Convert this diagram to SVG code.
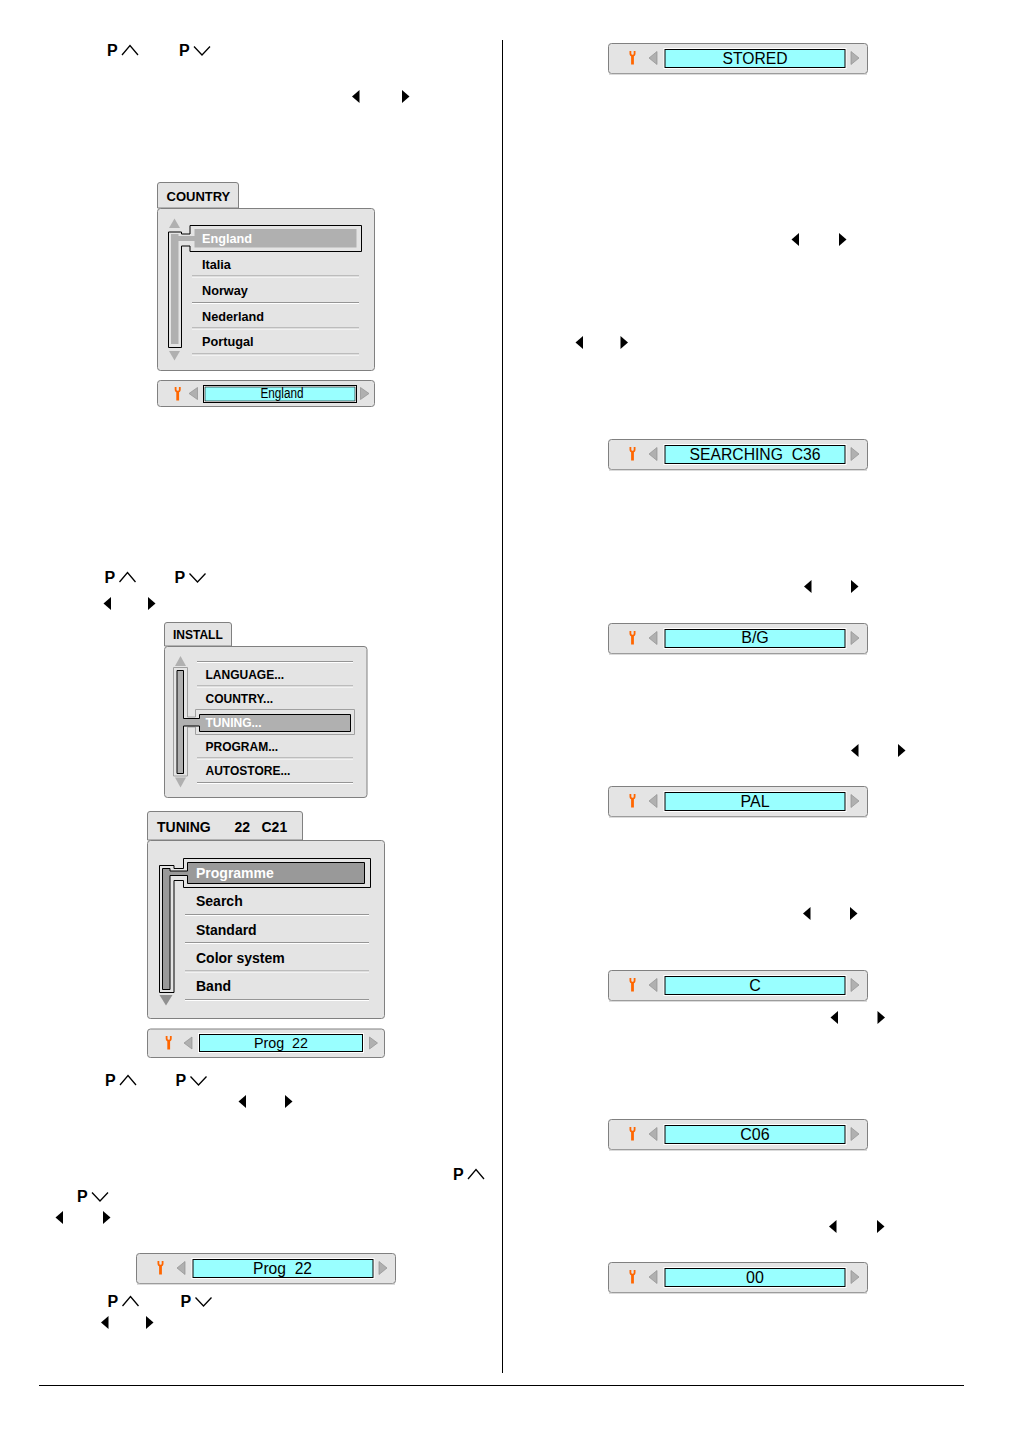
<svg xmlns="http://www.w3.org/2000/svg" width="1014" height="1433" viewBox="0 0 1014 1433">
<style>
text{font-family:"Liberation Sans",Arial,sans-serif;fill:#000}
.p{font-weight:bold;font-size:16px}
.caret{fill:none;stroke:#000;stroke-width:1.3}
.panel{fill:#e4e4e4;stroke:#808080;stroke-width:1}
.tab{fill:#e4e4e4;stroke:#808080;stroke-width:1}
.b{font-weight:bold}
.w{fill:#fff}
.c{font-size:12.7px}
.i{font-size:12px}
.t{font-size:14px}
.sepd{stroke:#959595;stroke-width:1;fill:none}
.sepl{stroke:#fff;stroke-width:1;fill:none}
.out{fill:#e4e4e4;stroke:#000;stroke-width:1}
.val{text-anchor:middle;white-space:pre}
.v16{font-size:16px}
.cy{fill:#99ffff;stroke:#000;stroke-width:1}
.wr{fill:none;stroke:#ff6600}
.ga{fill:#b0b0b0;stroke:#909090;stroke-width:.7}
</style>
<defs>
<path id="lt" d="M7.500 0V13L0 6.500Z" fill="#000"/>
<path id="rt" d="M0 0V13L7.500 6.500Z" fill="#000"/>
<g id="up"><path class="caret" d="M15 10L23 0.500L31 10"/></g>
<g id="dn"><path class="caret" d="M15 1L23 9.500L31 1"/></g>
<g id="wrench"><path class="wr" stroke-width="1.800" d="M-2.100 0V2.500Q-2.100 4.600 0 4.600Q2.100 4.600 2.100 2.500V0"/><path class="wr" stroke-width="2.800" d="M0 4.500V13.500"/></g>
<g id="bar">
<rect x=".5" y=".5" width="259" height="30" rx="3" class="panel"/>
<path d="M1 31H259" stroke="#b8b8b8" stroke-width="1"/>
<use href="#wrench" x="24.500" y="8"/>
<path d="M41 15L49 8.500V21.500Z" class="ga"/>
<path d="M243 8.500V21.500L251 15Z" class="ga"/>
<rect x="55.500" y="5" width="183" height="21" fill="#fff"/>
<rect x="57" y="6.500" width="180" height="18" class="cy"/>
</g>
</defs>

<g id="page-rules">
<path d="M502.500 40V1373" stroke="#000" stroke-width="1"/>
<path d="M39 1385.500H964" stroke="#000" stroke-width="1"/>
</g>

<g id="keys">
<text x="107" y="56" class="p">P</text><use href="#up" x="107" y="45"/>
<text x="179" y="56" class="p">P</text><use href="#dn" x="179" y="45.500"/>
<text x="104.500" y="583" class="p">P</text><use href="#up" x="104.500" y="572"/>
<text x="174.500" y="583" class="p">P</text><use href="#dn" x="174.500" y="572.500"/>
<text x="105" y="1086" class="p">P</text><use href="#up" x="105" y="1075"/>
<text x="175.500" y="1086" class="p">P</text><use href="#dn" x="175.500" y="1075.500"/>
<text x="453" y="1180" class="p">P</text><use href="#up" x="453" y="1169"/>
<text x="77" y="1202" class="p">P</text><use href="#dn" x="77" y="1191.500"/>
<text x="107.500" y="1307" class="p">P</text><use href="#up" x="107.500" y="1296"/>
<text x="180.500" y="1307" class="p">P</text><use href="#dn" x="180.500" y="1296.500"/>
<use href="#lt" x="352" y="90"/><use href="#rt" x="402" y="90"/>
<use href="#lt" x="103.500" y="597"/><use href="#rt" x="148" y="597"/>
<use href="#lt" x="238.500" y="1095"/><use href="#rt" x="285" y="1095"/>
<use href="#lt" x="55.500" y="1211"/><use href="#rt" x="103" y="1211"/>
<use href="#lt" x="101" y="1316"/><use href="#rt" x="146" y="1316"/>
<use href="#lt" x="791.500" y="233"/><use href="#rt" x="839" y="233"/>
<use href="#lt" x="575.500" y="336"/><use href="#rt" x="620.500" y="336"/>
<use href="#lt" x="804" y="580"/><use href="#rt" x="851" y="580"/>
<use href="#lt" x="851" y="744"/><use href="#rt" x="898" y="744"/>
<use href="#lt" x="803" y="907"/><use href="#rt" x="850" y="907"/>
<use href="#lt" x="830.500" y="1011"/><use href="#rt" x="877.500" y="1011"/>
<use href="#lt" x="829" y="1220"/><use href="#rt" x="877" y="1220"/>
</g>

<g id="country-menu">
<path class="tab" d="M157.500 208V185Q157.500 182.500 160 182.500H236Q238.500 182.500 238.500 185V208Z"/>
<text x="166.500" y="201" class="b" font-size="13px">COUNTRY</text>
<rect x="157.500" y="208.500" width="217" height="162" rx="3" class="panel"/>
<path d="M174.500 218.500L180 228H169Z" fill="#b0b0b0"/>
<path d="M174.500 360.500L180 351H169Z" fill="#b0b0b0"/>
<path class="out" d="M168.500 232H181.500V234H190V225.500H361.500V251.500H190V246H181.500V347.500H168.500Z"/>
<path d="M171 234H178.500V236H194.500V229H356.500V247.500H194.500V241H178.500V344H171Z" fill="#b0b0b0"/>
<text x="202" y="243" class="b c w">England</text>
<text x="202" y="269" class="b c">Italia</text>
<text x="202" y="295" class="b c">Norway</text>
<text x="202" y="320.500" class="b c">Nederland</text>
<text x="202" y="346" class="b c">Portugal</text>
<path class="sepd" d="M192 276H359M192 302.500H359M192 328H359M192 354H359"/>
<path class="sepl" d="M192 277H359M192 303.500H359M192 329H359M192 355H359"/>
</g>

<g id="country-bar">
<rect x="157.500" y="380.500" width="217" height="26" rx="3" class="panel"/>
<use href="#wrench" x="177.700" y="387"/>
<path d="M189 393.500L197.500 387.500V399.500Z" class="ga"/>
<path d="M360.500 387.500V399.500L369 393.500Z" class="ga"/>
<rect x="203.500" y="385.500" width="153" height="17" fill="#fff" stroke="#000" stroke-width="1"/>
<rect x="205" y="387" width="150" height="14" fill="#99ffff" stroke="#000" stroke-width=".6"/>
<text x="282" y="398" class="val" font-size="14" textLength="43" lengthAdjust="spacingAndGlyphs">England</text>
</g>

<g id="install-menu">
<path class="tab" d="M164.500 646V625Q164.500 622.500 167 622.500H229Q231.500 622.500 231.500 625V646Z"/>
<text x="173" y="638.500" class="b i">INSTALL</text>
<rect x="164.500" y="646.500" width="202.500" height="151" rx="3" class="panel"/>
<path d="M180.500 656L186 666H175Z" fill="#b0b0b0"/>
<path d="M180.500 787.500L186 777.500H175Z" fill="#b0b0b0"/>
<path fill="#e4e4e4" stroke="#a0a0a0" stroke-width="1" d="M173.500 667.500H187.500V717H195.500V709.500H354.500V734.500H195.500V727H187.500V776H173.500Z"/>
<path fill="#b0b0b0" stroke="#000" stroke-width="1" d="M177 670.500H183.500V718.500H199.500V714.500H350.500V731.500H199.500V726H183.500V773.500H177Z"/>
<text x="205.500" y="679" class="b i">LANGUAGE...</text>
<text x="205.500" y="703" class="b i">COUNTRY...</text>
<text x="205.500" y="727" class="b i w">TUNING...</text>
<text x="205.500" y="751" class="b i">PROGRAM...</text>
<text x="205.500" y="775" class="b i">AUTOSTORE...</text>
<path class="sepd" d="M197 661.500H353M197 686H353M197 758H353M197 782.500H353"/>
<path class="sepl" d="M197 662.500H353M197 687H353M197 759H353M197 783.500H353"/>
</g>

<g id="tuning-menu">
<path class="tab" d="M147.500 840V814Q147.500 811.500 150 811.500H300Q302.500 811.500 302.500 814V840Z"/>
<text x="157" y="831.500" class="b t">TUNING</text>
<text x="234.500" y="831.500" class="b t">22</text>
<text x="261.500" y="831.500" class="b t">C21</text>
<rect x="147.500" y="840.500" width="237" height="178" rx="3" class="panel"/>
<path d="M166 1005.500L172.500 995H159.500Z" fill="#909090"/>
<path class="out" d="M159.500 865.500H174V868.500H183.500V858.500H370.500V887.500H183.500V880.500H174V992.500H159.500Z"/>
<path fill="#999" stroke="#000" stroke-width="1" d="M162.500 868.500H170V871H187.500V862.500H364.500V883.500H187.500V875.500H170V989.500H162.500Z"/>
<text x="196" y="878" class="b t w">Programme</text>
<text x="196" y="906" class="b t">Search</text>
<text x="196" y="934.500" class="b t">Standard</text>
<text x="196" y="962.700" class="b t">Color system</text>
<text x="196" y="990.700" class="b t">Band</text>
<path class="sepd" d="M185 914.500H369M185 942.500H369M185 971H369M185 999.500H369"/>
<path class="sepl" d="M185 915.500H369M185 943.500H369M185 972H369M185 1000.500H369"/>
</g>

<g id="tuning-bar">
<rect x="147.500" y="1029" width="237" height="28.500" rx="3" class="panel"/>
<use href="#wrench" x="168.700" y="1036"/>
<path d="M184 1043L192 1037V1049Z" class="ga"/>
<path d="M369.500 1037V1049L377.500 1043Z" class="ga"/>
<rect x="198" y="1033" width="166" height="20" fill="#fff"/>
<rect x="199.500" y="1034.500" width="163" height="17" class="cy"/>
<text x="281" y="1048" class="val" font-size="14.500" textLength="54" lengthAdjust="spacingAndGlyphs">Prog  22</text>
</g>

<g id="bar-prog"><use href="#bar" x="136" y="1253"/><text x="282.500" y="1274" class="val v16" textLength="59" lengthAdjust="spacingAndGlyphs">Prog  22</text></g>
<g id="bar-stored"><use href="#bar" x="608" y="43"/><text x="755" y="64" class="val v16" textLength="65" lengthAdjust="spacingAndGlyphs">STORED</text></g>
<g id="bar-searching"><use href="#bar" x="608" y="439"/><text x="755" y="460" class="val v16" textLength="131" lengthAdjust="spacingAndGlyphs">SEARCHING  C36</text></g>
<g id="bar-bg"><use href="#bar" x="608" y="623"/><text x="755" y="643" class="val v16">B/G</text></g>
<g id="bar-pal"><use href="#bar" x="608" y="786"/><text x="755" y="807" class="val v16">PAL</text></g>
<g id="bar-c"><use href="#bar" x="608" y="970"/><text x="755" y="991" class="val v16">C</text></g>
<g id="bar-c06"><use href="#bar" x="608" y="1119"/><text x="755" y="1140" class="val v16">C06</text></g>
<g id="bar-00"><use href="#bar" x="608" y="1262"/><text x="755" y="1283" class="val v16">00</text></g>
</svg>
